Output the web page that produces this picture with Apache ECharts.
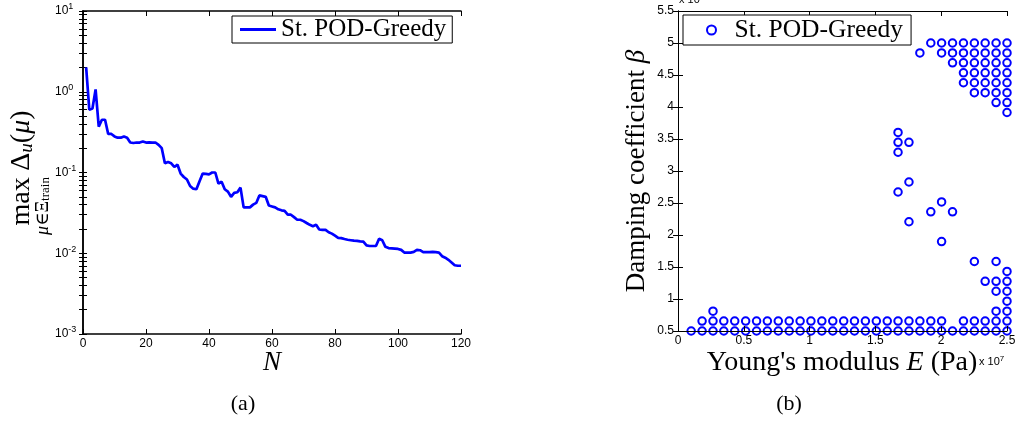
<!DOCTYPE html>
<html>
<head>
<meta charset="utf-8">
<script src="https://cdn.jsdelivr.net/npm/echarts@6/dist/echarts.min.js"></script>
<style>
  html, body { margin: 0; padding: 0; background: #fff; }
  #chart { width: 1019px; height: 423px; }
</style>
</head>
<body>
<div id="chart"></div>
<script>
// (a) max error estimate vs N (N = 1..120)
const errorBound = [
  2.0, 0.60, 0.62, 1.07, 0.37, 0.45, 0.45, 0.30, 0.30, 0.28,
  0.27, 0.27, 0.28, 0.27, 0.235, 0.232, 0.235, 0.235, 0.242, 0.235,
  0.236, 0.235, 0.235, 0.22, 0.20, 0.13, 0.135, 0.13, 0.117, 0.125,
  0.097, 0.088, 0.082, 0.068, 0.063, 0.062, 0.078, 0.097, 0.096, 0.095,
  0.10, 0.10, 0.073, 0.077, 0.062, 0.058, 0.050, 0.056, 0.057, 0.065,
  0.037, 0.037, 0.037, 0.040, 0.042, 0.052, 0.051, 0.050, 0.039, 0.038,
  0.037, 0.035, 0.034, 0.0335, 0.030, 0.030, 0.028, 0.026, 0.026, 0.025,
  0.0237, 0.0225, 0.0216, 0.0225, 0.0197, 0.0195, 0.0195, 0.0182, 0.0175, 0.0165,
  0.0155, 0.0154, 0.0150, 0.0147, 0.0145, 0.0143, 0.0142, 0.0140, 0.0139, 0.0125,
  0.0123, 0.0123, 0.0123, 0.0151, 0.0145, 0.0120, 0.0116, 0.0115, 0.0114, 0.0113,
  0.0110, 0.0102, 0.0102, 0.0102, 0.0104, 0.0110, 0.0109, 0.0103, 0.0103, 0.0103,
  0.0104, 0.0103, 0.0102, 0.0092, 0.0088, 0.0083, 0.0077, 0.0071, 0.0070, 0.0070
];
const logTickLabels = [0.001, 0.01, 0.1, 1, 10];
const nTicks = [0, 20, 40, 60, 80, 100, 120];

// (b) training grid values (E in 1e7 Pa, beta) and the selected points
const gridE = [
  0.100, 0.183, 0.266, 0.348, 0.431, 0.514, 0.597, 0.679, 0.762, 0.845,
  0.928, 1.010, 1.093, 1.176, 1.259, 1.341, 1.424, 1.507, 1.590, 1.672,
  1.755, 1.838, 1.921, 2.003, 2.086, 2.169, 2.252, 2.334, 2.417, 2.500
];
const gridBeta = [
  0.500, 0.655, 0.810, 0.966, 1.121, 1.276, 1.431, 1.586, 1.741, 1.897,
  2.052, 2.207, 2.362, 2.517, 2.672, 2.828, 2.983, 3.138, 3.293, 3.448,
  3.603, 3.759, 3.914, 4.069, 4.224, 4.379, 4.534, 4.690, 4.845, 5.000
];
// row index into gridBeta, then the column indices into gridE picked in that row
const pickedRows = [0, 1, 2, 3, 4, 5, 6, 7, 9, 11, 12, 13, 14, 15, 18, 19, 20, 22, 23, 24, 25, 26, 27, 28, 29];
const pickedCols = [
  [0,1,2,3,4,5,6,7,8,9,10,11,12,13,14,15,16,17,18,19,20,21,22,23,24,25,26,27,28,29],
  [1,2,3,4,5,6,7,8,9,10,11,12,13,14,15,16,17,18,19,20,21,22,23,25,26,27,28,29],
  [2,28,29],
  [29],
  [28,29],
  [27,28,29],
  [29],
  [26,28],
  [23],
  [20],
  [22,24],
  [23],
  [19],
  [20],
  [19],
  [19,20],
  [19],
  [29],
  [28,29],
  [26,27,28,29],
  [25,26,27,28,29],
  [25,26,27,28,29],
  [24,25,26,27,28,29],
  [21,23,24,25,26,27,28,29],
  [22,23,24,25,26,27,28,29]
];

const lineData = errorBound.map((v, i) => [i + 1, v]);
const scatterData = [];
pickedRows.forEach((r, k) => {
  pickedCols[k].forEach(c => scatterData.push([gridE[c], gridBeta[r]]));
});

// minor ticks for the log axis
const logTicks = [];
for (let e = -3; e <= 1; e++) {
  for (let m = 1; m <= 9; m++) {
    const v = m * Math.pow(10, e);
    if (v <= 10) logTicks.push(v);
  }
}

const SANS = 'Liberation Sans, Arial, sans-serif';
const SERIF = 'Liberation Serif, DejaVu Serif, serif';

const axisLineStyle = { color: '#000', width: 1.5 };
const tickInside = { inside: true, length: 5, lineStyle: { color: '#000', width: 1 } };

const logLabel = {
  show: true,
  customValues: logTickLabels,
  align: 'left',
  margin: 28,
  formatter: v => '{b|10}{s|' + Math.round(Math.log10(v)) + '}',
  rich: {
    b: { fontSize: 12, fontFamily: SANS, color: '#000' },
    s: { fontSize: 9, fontFamily: SANS, color: '#000', padding: [0, 0, 8, 0] }
  }
};

const chart = echarts.init(document.getElementById('chart'));
const option = {
  animation: false,
  backgroundColor: '#fff',
  grid: [
    { left: 83, top: 11, width: 378, height: 323, outerBoundsMode: 'none' },
    { left: 678, top: 11, width: 329, height: 320, outerBoundsMode: 'none' }
  ],
  xAxis: [
    {
      gridIndex: 0, type: 'value', min: 0, max: 120, interval: 20,
      axisLine: { lineStyle: axisLineStyle }, axisTick: tickInside,
      axisLabel: { fontSize: 12, fontFamily: SANS, color: '#000', margin: 4, customValues: nTicks },
      splitLine: { show: false }
    },
    {
      gridIndex: 0, type: 'value', position: 'top', min: 0, max: 120, interval: 20,
      axisLine: { lineStyle: axisLineStyle }, axisTick: tickInside,
      axisLabel: { show: false }, splitLine: { show: false }
    },
    {
      gridIndex: 1, type: 'value', min: 0, max: 2.5, interval: 0.5, z: 5,
      axisLine: { lineStyle: { color: '#000', width: 1 } }, axisTick: tickInside,
      axisLabel: { fontSize: 12, fontFamily: SANS, color: '#000', margin: 4 },
      splitLine: { show: false }
    },
    {
      gridIndex: 1, type: 'value', position: 'top', min: 0, max: 2.5, interval: 0.5,
      axisLine: { lineStyle: { color: '#000', width: 1 } }, axisTick: tickInside,
      axisLabel: { show: false }, splitLine: { show: false }
    }
  ],
  yAxis: [
    {
      gridIndex: 0, type: 'log', logBase: 10, min: 0.001, max: 10,
      axisLine: { lineStyle: axisLineStyle },
      axisTick: Object.assign({ customValues: logTicks }, tickInside, { length: 4 }),
      axisLabel: logLabel, splitLine: { show: false }
    },
    {
      gridIndex: 0, type: 'log', logBase: 10, min: 0.001, max: 10, position: 'right',
      axisLine: { lineStyle: axisLineStyle },
      axisTick: Object.assign({ customValues: logTicks }, tickInside, { length: 4 }),
      axisLabel: { show: false }, splitLine: { show: false }
    },
    {
      gridIndex: 1, type: 'value', min: 0.5, max: 5.5, interval: 0.5,
      axisLine: { lineStyle: { color: '#000', width: 1 } }, axisTick: tickInside,
      axisLabel: { fontSize: 12, fontFamily: SANS, color: '#000', margin: 4 },
      splitLine: { show: false }
    },
    {
      gridIndex: 1, type: 'value', min: 0.5, max: 5.5, interval: 0.5, position: 'right', z: 5,
      axisLine: { lineStyle: { color: '#000', width: 1 } }, axisTick: tickInside,
      axisLabel: { show: false }, splitLine: { show: false }
    }
  ],
  legend: [
    {
      data: [{ name: 'St. POD-Greedy', icon: 'rect' }],
      left: 232, top: 16,
      padding: [1, 6, 1, 8],
      borderColor: '#000', borderWidth: 1, backgroundColor: '#fff',
      itemWidth: 36, itemHeight: 3,
      textStyle: { fontFamily: SERIF, fontSize: 25, color: '#000' },
      selectedMode: false
    },
    {
      data: ['St. POD-Greedy '],
      left: 683, top: 15,
      padding: [2, 8, 2, 23],
      borderColor: '#000', borderWidth: 1, backgroundColor: '#fff',
      itemWidth: 36, itemHeight: 9,
      formatter: name => name.trim(),
      textStyle: { fontFamily: SERIF, fontSize: 25.5, color: '#000' },
      selectedMode: false
    }
  ],
  series: [
    {
      name: 'St. POD-Greedy',
      type: 'line',
      xAxisIndex: 0, yAxisIndex: 0,
      data: lineData,
      symbol: 'none',
      lineStyle: { color: '#0000ff', width: 2.7 },
      itemStyle: { color: '#0000ff' }
    },
    {
      name: 'St. POD-Greedy ',
      type: 'scatter',
      xAxisIndex: 2, yAxisIndex: 2,
      data: scatterData,
      symbol: 'emptyCircle',
      symbolSize: 7.5,
      clip: false,
      itemStyle: { color: '#0000ff', borderColor: '#0000ff', borderWidth: 2.4, opacity: 1 }
    }
  ],
  graphic: [
    // (a) axis names
    {
      type: 'text', x: 22, y: 168, rotation: Math.PI / 2,
      style: {
        text: '{m|max}  {m|Δ}{s|u}{m|(}{i|μ}{m|)}',
        align: 'center', verticalAlign: 'middle',
        rich: {
          m: { fontFamily: SERIF, fontSize: 28, color: '#000' },
          i: { fontFamily: SERIF, fontSize: 28, fontStyle: 'italic', color: '#000' },
          s: { fontFamily: SERIF, fontSize: 19, fontStyle: 'italic', color: '#000', padding: [10, 0, 0, 0] }
        }
      }
    },
    {
      type: 'text', x: 43, y: 206, rotation: Math.PI / 2,
      style: {
        text: '{i|μ}{m|∈Ξ}{s|train}',
        align: 'center', verticalAlign: 'middle',
        rich: {
          i: { fontFamily: SERIF, fontSize: 18, fontStyle: 'italic', color: '#000' },
          m: { fontFamily: SERIF, fontSize: 18, color: '#000' },
          s: { fontFamily: SERIF, fontSize: 13, color: '#000', padding: [6, 0, 0, 0] }
        }
      }
    },
    {
      type: 'text', x: 272, y: 363,
      style: { text: 'N', align: 'center', verticalAlign: 'middle', font: 'italic 27px ' + SERIF, fill: '#000' }
    },
    {
      type: 'text', x: 243, y: 404,
      style: { text: '(a)', align: 'center', verticalAlign: 'middle', font: '22px ' + SERIF, fill: '#000' }
    },
    // (b) axis names
    {
      type: 'text', x: 637, y: 171, rotation: Math.PI / 2,
      style: {
        text: '{m|Damping coefficient }{i|β}',
        align: 'center', verticalAlign: 'middle',
        rich: {
          m: { fontFamily: SERIF, fontSize: 27, color: '#000' },
          i: { fontFamily: SERIF, fontSize: 27, fontStyle: 'italic', color: '#000' }
        }
      }
    },
    {
      type: 'text', x: 842, y: 363,
      style: {
        text: "{m|Young's modulus }{i|E}{m| (Pa)}",
        align: 'center', verticalAlign: 'middle',
        rich: {
          m: { fontFamily: SERIF, fontSize: 28, color: '#000' },
          i: { fontFamily: SERIF, fontSize: 28, fontStyle: 'italic', color: '#000' }
        }
      }
    },
    {
      type: 'text', x: 979, y: 362,
      style: {
        text: '{b|x 10}{s|7}',
        align: 'left', verticalAlign: 'middle',
        rich: {
          b: { fontFamily: SANS, fontSize: 11, color: '#000' },
          s: { fontFamily: SANS, fontSize: 8, color: '#000', padding: [0, 0, 7, 0] }
        }
      }
    },
    {
      type: 'text', x: 679, y: 0,
      style: { text: 'x 10', align: 'left', verticalAlign: 'middle', font: '11px ' + SANS, fill: '#000' }
    },
    {
      type: 'text', x: 789, y: 404,
      style: { text: '(b)', align: 'center', verticalAlign: 'middle', font: '22px ' + SERIF, fill: '#000' }
    }
  ]
};
chart.setOption(option);
</script>
</body>
</html>
